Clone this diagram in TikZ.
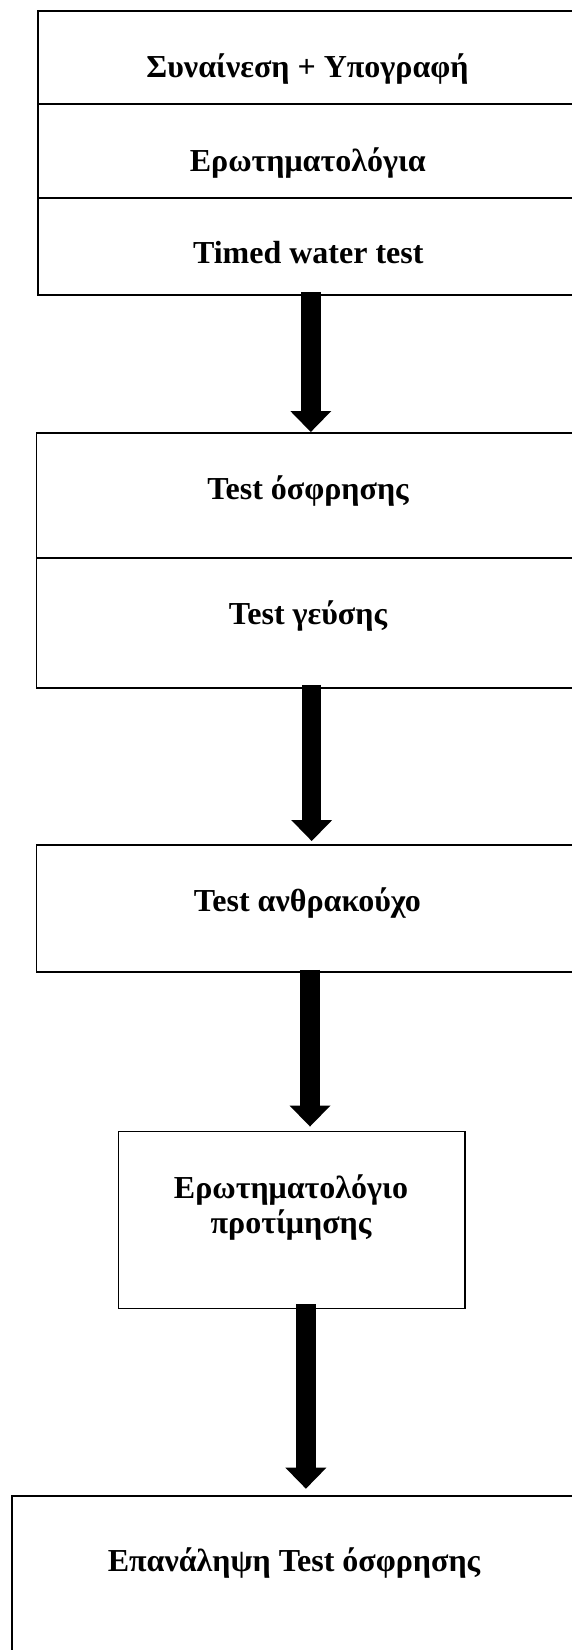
\documentclass[tikz,border=0pt]{standalone}
\usepackage{fontspec}
\setmainfont{Liberation Serif}
\usepackage{tikz}
\usetikzlibrary{arrows.meta}

\begin{document}
\begin{tikzpicture}[x=1pt,y=-1pt,
    stage/.style={draw, line width=1.8pt, rectangle, anchor=north west, inner sep=0pt},
    caption/.style={anchor=base, inner sep=0pt, font=\bfseries\fontsize{32}{35}\selectfont, align=center},
    flow/.style={line width=19.5pt, -{Triangle[width=41pt,length=21pt,line width=0pt]}}]
          \clip (0,0) rectangle (572,1650);
          % boxes (right side runs off the page)
          \node[stage, minimum width=580, minimum height=93] (consent) at (37.3,10) {};
          \node[stage, minimum width=580, minimum height=94] (quest) at (37.3,103) {};
          \node[stage, minimum width=580, minimum height=97] (water) at (37.3,197) {};
          \node[stage, minimum width=580, minimum height=125] (smell) at (35.5,432) {};
          \node[stage, minimum width=580, minimum height=130] (taste) at (35.5,557) {};
          \node[stage, minimum width=580, minimum height=127] (carb) at (35.5,844) {};
          \node[stage, minimum width=346.5, minimum height=177] (pref) at (117.6,1130.5) {};
          \node[stage, minimum width=600, minimum height=200] (again) at (10.8,1494.7) {};
          % texts
          \node[caption] (consent-t) at (307.5,77) {Συναίνεση + Υπογραφή};
          \node[caption] (quest-t) at (307.8,171) {Ερωτηματολόγια};
          \node[caption] (water-t) at (308.3,263) {Timed water test};
          \node[caption] (smell-t) at (308,499) {Test όσφρησης};
          \node[caption] (taste-t) at (308,624) {Test γεύσης};
          \node[caption] (carb-t) at (307.4,911) {Test ανθρακούχο};
          \node[caption] (pref-t) at (291,1233) {Ερωτηματολόγιο\\προτίμησης};
          \node[caption] (again-t) at (294,1571) {Επανάληψη Test όσφρησης};
          % arrows
          \coordinate (ax1) at (310.8,0);
          \coordinate (ax2) at (311.7,0);
          \coordinate (ax3) at (310,0);
          \coordinate (ax4) at (305.9,0);
          \draw[flow] ([yshift=4pt]water.south -| ax1) -- (smell.north -| ax1);
          \draw[flow] ([yshift=4pt]taste.south -| ax2) -- ([yshift=3pt]carb.north -| ax2);
          \draw[flow] ([yshift=3pt]carb.south -| ax3) -- ([yshift=4pt]pref.north -| ax3);
          \draw[flow] ([yshift=5pt]pref.south -| ax4) -- ([yshift=6pt]again.north -| ax4);
        \end{tikzpicture}
\end{document}
